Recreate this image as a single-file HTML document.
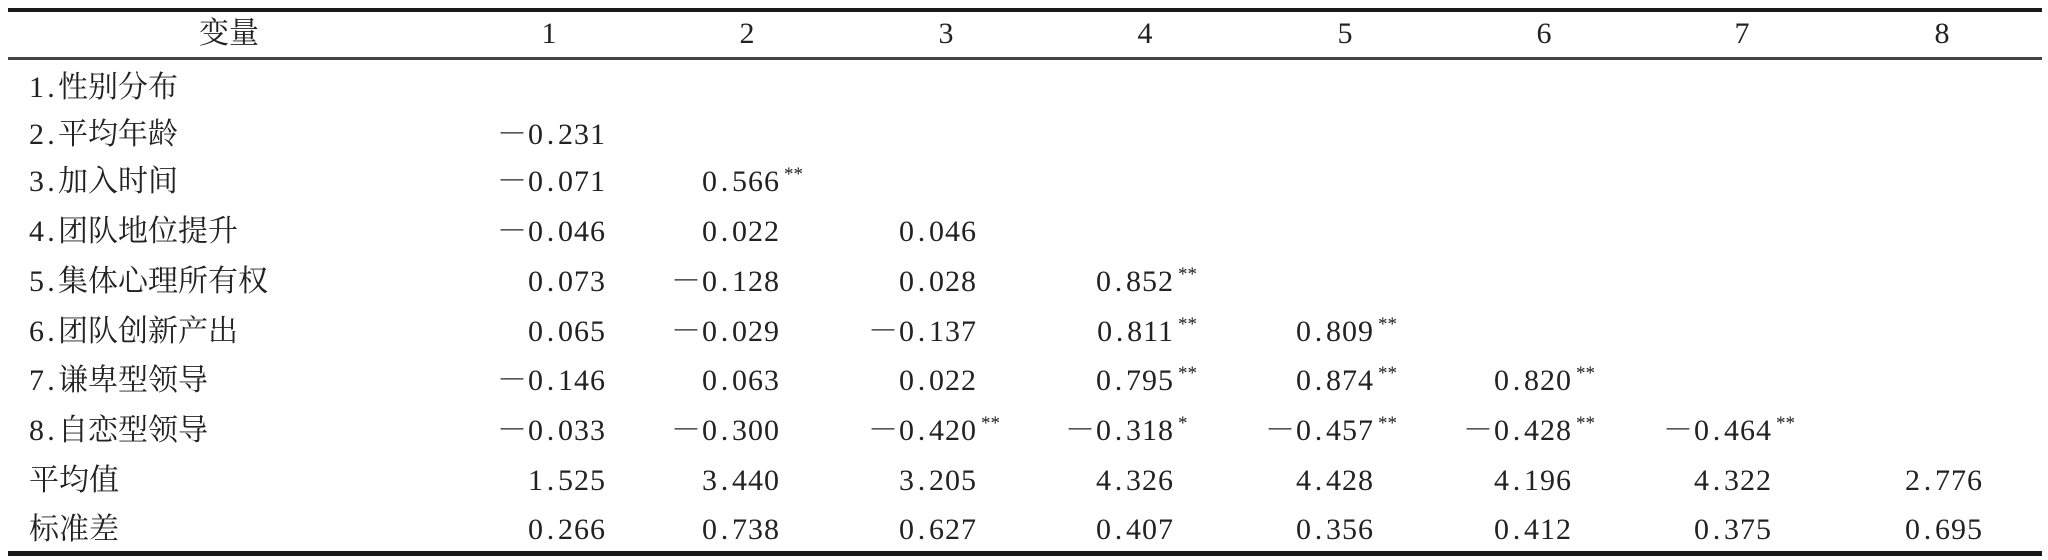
<!DOCTYPE html>
<html><head><meta charset="utf-8">
<style>
html,body{margin:0;padding:0;background:#fff;}
#t{position:relative;width:2048px;height:560px;overflow:hidden;font-family:"Liberation Serif","Noto Serif CJK SC",serif;color:#222;}
.rule{position:absolute;left:8px;width:2034px;background:#1a1a1a;}
.c{position:absolute;font-size:30px;line-height:30px;white-space:nowrap;}
.lab{font-family:"Liberation Serif","Noto Serif CJK SC",serif;}
.num{letter-spacing:1px;}
.dot{display:inline-block;width:14px;text-align:center;}
.star{position:absolute;font-size:19px;left:100%;top:-7px;padding-left:4px;letter-spacing:0;}
</style></head>
<body>
<div id="t">
  <div class="rule" style="top:8px;height:4px"></div>
  <div class="rule" style="top:57px;height:3px;background:#444"></div>
  <div class="rule" style="top:551px;height:5px"></div>
</div>
<script>
const headers = ["1","2","3","4","5","6","7","8"];
const rowLabels = ["1.性别分布","2.平均年龄","3.加入时间","4.团队地位提升","5.集体心理所有权","6.团队创新产出","7.谦卑型领导","8.自恋型领导","平均值","标准差"];
const values = [
 [],
 ["－0.231"],
 ["－0.071","0.566**"],
 ["－0.046","0.022","0.046"],
 ["0.073","－0.128","0.028","0.852**"],
 ["0.065","－0.029","－0.137","0.811**","0.809**"],
 ["－0.146","0.063","0.022","0.795**","0.874**","0.820**"],
 ["－0.033","－0.300","－0.420**","－0.318*","－0.457**","－0.428**","－0.464**"],
 ["1.525","3.440","3.205","4.326","4.428","4.196","4.322","2.776"],
 ["0.266","0.738","0.627","0.407","0.356","0.412","0.375","0.695"]
];
const t = document.getElementById('t');
const headCenters = [549,747,946,1145,1345,1544,1742,1942];
const colRight = [606,780,977,1174,1374,1572,1772,1983];
const rowY = [88,135,182,232,282,332,381,431,481,530];
function add(txt, css, cls){
  const d=document.createElement('div');
  d.className='c '+(cls||'');
  d.style.cssText=css;
  d.textContent=txt;
  t.appendChild(d);
  return d;
}
function dotted(el, txt){
  el.textContent='';
  const parts=txt.split('.');
  el.appendChild(document.createTextNode(parts[0]));
  const dt=document.createElement('span');
  dt.className='dot';
  dt.textContent='.';
  el.appendChild(dt);
  el.appendChild(document.createTextNode(parts.slice(1).join('.')));
}
let h=add("变量","left:229px;top:19px;transform:translateX(-50%)","lab");


headers.forEach((s,i)=>{
  const d=add(s,"left:"+headCenters[i]+"px;top:19px;transform:translateX(-50%)");
  
  
});
rowLabels.forEach((s,r)=>{
  const d=add(s,"left:29px;top:"+(rowY[r]-15)+"px","lab");
  if(s.indexOf('.')>=0) dotted(d,s);
  
  
  values[r].forEach((v,c)=>{
    const m=v.match(/^([^*]*)(\**)$/);
    const d2=add(m[1],"right:"+(2048-colRight[c])+"px;top:"+(rowY[r]-15)+"px","num");
    dotted(d2,m[1]);
    
    
    if(m[2]){
      const s2=document.createElement('span');
      s2.className='star';
      s2.textContent=m[2];
      
      
      d2.appendChild(s2);
    }
  });
});
</script>
</body></html>
